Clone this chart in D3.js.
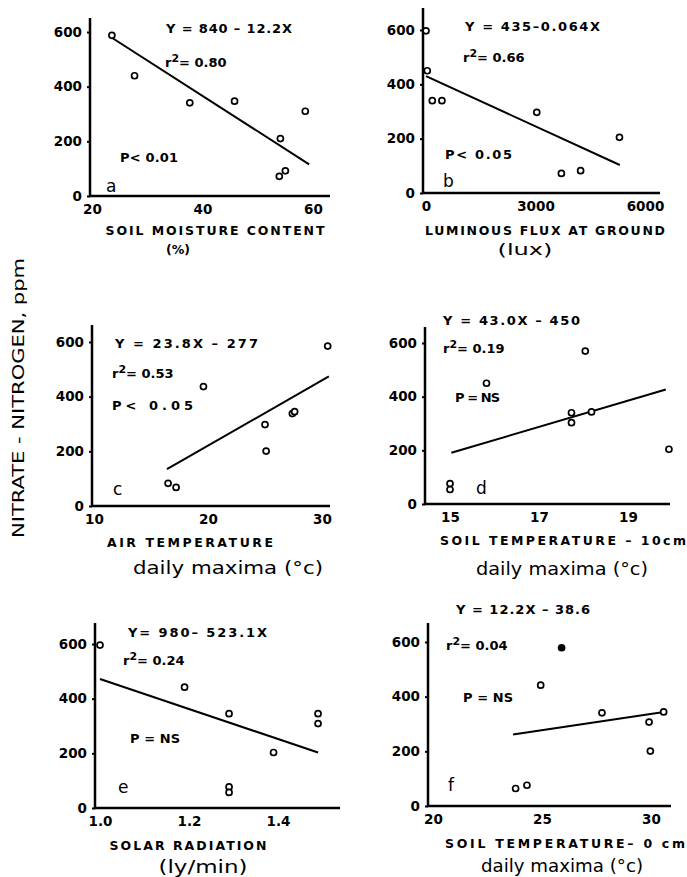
<!DOCTYPE html>
<html>
<head>
<meta charset="utf-8">
<script src="https://cdn.jsdelivr.net/npm/d3@7"></script>
<style>
  body { margin: 0; background: #fff; }
  svg { display: block; }
</style>
</head>
<body>
<svg id="chart" width="687" height="877"></svg>
<script>
// values, y is nitrate-nitrogen in ppm for every panel
const yTicks = [0, 200, 400, 600]

// a - soil moisture content (%)
const moistureX = [23.6, 27.7, 37.7, 45.8, 54.1, 53.9, 55.0, 58.6]
const moistureY = [588, 440, 341, 347, 210, 72, 92, 310]
const moistureFit = [[23.6, 579], [59.3, 116]]
const moistureTicks = [20, 40, 60]

// b - luminous flux at ground (lux)
const fluxX = [0, 35, 172, 436, 3035, 3709, 4236, 5300]
const fluxY = [597, 450, 340, 340, 297, 72, 82, 205]
const fluxFit = [[0, 430], [5310, 103]]
const fluxTicks = [0, 3000, 6000]

// c - air temperature, daily maxima (C)
const airX = [16.5, 17.2, 19.6, 25.0, 25.1, 27.4, 27.6, 30.5]
const airY = [83, 68, 437, 298, 201, 338, 345, 585]
const airFit = [[16.4, 135], [30.6, 474]]
const airTicks = [10, 20, 30]

// d - soil temperature 10cm, daily maxima (C)
const soil10X = [15.0, 15.0, 15.82, 17.73, 17.73, 18.04, 18.18, 19.92]
const soil10Y = [54, 76, 450, 340, 303, 570, 343, 204]
const soil10Fit = [[15.03, 191], [19.85, 427]]
const soil10Ticks = [15, 17, 19]

// e - solar radiation (ly/min)
const solarX = [1.0, 1.19, 1.29, 1.29, 1.29, 1.39, 1.49, 1.49]
const solarY = [596, 442, 345, 77, 57, 203, 345, 309]
const solarFit = [[1.0, 472], [1.49, 203]]
const solarTicks = [1.0, 1.2, 1.4]

// f - soil temperature 0cm, daily maxima (C)
const soil0X = [23.79, 24.31, 24.94, 25.9, 27.75, 29.91, 29.97, 30.58]
const soil0Y = [64, 76, 442, 579, 341, 307, 201, 344]
const soil0Fit = [[23.67, 262], [30.52, 343]]
const soil0Ticks = [20, 25, 30]

const equations = ["Y = 840 \u2013 12.2X", "Y = 435\u20130.064X", "Y = 23.8X \u2013 277",
                   "Y = 43.0X \u2013 450", "Y= 980\u2013 523.1X", "Y = 12.2X \u2013 38.6"]
const r2Values = ["0.80", "0.66", "0.53", "0.19", "0.24", "0.04"]
const pValues = ["P< 0.01", "P< 0.05", "P< 0.05", "P = NS", "P = NS", "P = NS"]
const panelLetters = ["a", "b", "c", "d", "e", "f"]
const titles = ["SOIL MOISTURE CONTENT", "LUMINOUS FLUX AT GROUND", "AIR TEMPERATURE",
                "SOIL TEMPERATURE \u2013 10cm", "SOLAR RADIATION", "SOIL TEMPERATURE\u2013 0 cm"]
const subtitles = ["(%)", "(lux)", "daily maxima (\u00b0c)", "daily maxima (\u00b0c)", "(ly/min)", "daily maxima (\u00b0c)"]
const yTitle = "NITRATE - NITROGEN,  ppm"

const FONT = "'DejaVu Sans', 'Liberation Sans', sans-serif"

// where each panel sits on the page (pixels)
const frames = [
  {xs: moistureX, ys: moistureY, fit: moistureFit, ticks: moistureTicks, xDom: [20, 60], xPx: [92, 313],
   x0: 90, x1: 330, y0: 196, y600: 32, yTop: 18,
   eq: [166, 33, 126], r2: [165, 67, 68], p: [120, 162, 58], letter: [106, 192],
   title: [215, 235, 219], sub: [178, 254, 24], subBold: true},
  {xs: fluxX, ys: fluxY, fit: fluxFit, ticks: fluxTicks, xDom: [0, 6000], xPx: [426, 645],
   x0: 423, x1: 660, y0: 193, y600: 30, yTop: 8,
   eq: [465, 31, 135], r2: [463, 62, 70], p: [445, 159, 67], letter: [443, 187],
   title: [545, 235, 240], sub: [525, 255, 55], subSize: 15},
  {xs: airX, ys: airY, fit: airFit, ticks: airTicks, xDom: [10, 30], xPx: [94, 322],
   x0: 92, x1: 330, y0: 506, y600: 342, yTop: 325,
   eq: [115, 348, 143], r2: [112, 378, 78], p: [112, 410, 81], letter: [113, 495],
   title: [190, 547, 166], sub: [228, 574, 190]},
  {xs: soil10X, ys: soil10Y, fit: soil10Fit, ticks: soil10Ticks, xDom: [15, 19], xPx: [450, 628],
   x0: 425, x1: 670, y0: 504, y600: 343, yTop: 327,
   eq: [443, 325, 137], r2: [443, 353, 70], p: [455, 402, 45], letter: [476, 494],
   title: [563, 545, 246], sub: [562, 575, 172]},
  {xs: solarX, ys: solarY, fit: solarFit, ticks: solarTicks, xDom: [1.0, 1.4], xPx: [100, 278],
   x0: 95, x1: 340, y0: 808, y600: 644, yTop: 623,
   eq: [128, 637, 139], r2: [123, 665, 76], p: [130, 743, 50], letter: [118, 793],
   title: [188, 850, 157], sub: [203, 873, 89], fmt: d3.format(".1f")},
  {xs: soil0X, ys: soil0Y, fit: soil0Fit, ticks: soil0Ticks, xDom: [20, 30], xPx: [433, 651],
   x0: 428, x1: 671, y0: 806, y600: 642, yTop: 623,
   eq: [456, 614, 134], r2: [446, 650, 82], p: [463, 702, 50], letter: [448, 791],
   title: [565, 848, 240], sub: [562, 872, 162], solid: [3]}
]

const svg = d3.select("#chart")

svg.append("text")
  .attr("transform", "translate(24,398) rotate(-90)")
  .attr("text-anchor", "middle")
  .attr("textLength", 280)
  .attr("lengthAdjust", "spacingAndGlyphs")
  .style("font", "16px " + FONT)
  .text(yTitle)

frames.forEach(function(f, i) {
  const g = svg.append("g").attr("class", "panel")
  const x = d3.scaleLinear().domain(f.xDom).range(f.xPx)
  const y = d3.scaleLinear().domain([0, 600]).range([f.y0, f.y600])

  // axis lines
  g.append("path")
    .attr("d", d3.line()([[f.x0, f.yTop], [f.x0, f.y0], [f.x1, f.y0]]))
    .attr("fill", "none")
    .attr("stroke", "black")
    .attr("stroke-width", 2.5)

  const yAx = g.append("g")
    .attr("transform", "translate(" + f.x0 + ",0)")
    .call(d3.axisLeft(y).tickValues(yTicks).tickSize(3).tickPadding(5))
  const xAx = g.append("g")
    .attr("transform", "translate(0," + f.y0 + ")")
    .call(d3.axisBottom(x).tickValues(f.ticks).tickSize(0).tickPadding(8)
      .tickFormat(f.fmt || (d => d)))
  ;[yAx, xAx].forEach(function(ax) {
    ax.select(".domain").remove()
    ax.selectAll("line").attr("stroke-width", 2)
    ax.selectAll("text").style("font", "bold 13.5px " + FONT).attr("fill", "black")
  })

  // regression line
  g.append("path")
    .attr("d", d3.line().x(d => x(d[0])).y(d => y(d[1]))(f.fit))
    .attr("fill", "none")
    .attr("stroke", "black")
    .attr("stroke-width", 2)

  // observations
  g.selectAll("circle")
    .data(d3.zip(f.xs, f.ys))
    .enter()
    .append("circle")
    .attr("cx", d => x(d[0]))
    .attr("cy", d => y(d[1]))
    .attr("r", 3)
    .attr("stroke", "black")
    .attr("stroke-width", 1.7)
    .attr("fill", (d, j) => (f.solid && f.solid.includes(j)) ? "black" : "white")

  // annotations
  const note = "bold 13px " + FONT
  g.append("text")
    .attr("x", f.eq[0]).attr("y", f.eq[1])
    .attr("textLength", f.eq[2]).attr("lengthAdjust", "spacing")
    .style("font", note)
    .text(equations[i])

  const r = g.append("text")
    .attr("x", f.r2[0]).attr("y", f.r2[1])
    .style("font", note)
  r.append("tspan").text("r")
  r.append("tspan").attr("dy", -5).style("font-size", "11px").text("2")
  r.append("tspan").attr("dy", 5).text("= " + r2Values[i])

  g.append("text")
    .attr("x", f.p[0]).attr("y", f.p[1])
    .attr("textLength", f.p[2]).attr("lengthAdjust", "spacing")
    .style("font", note)
    .text(pValues[i])

  g.append("text")
    .attr("x", f.letter[0]).attr("y", f.letter[1])
    .style("font", "17px " + FONT)
    .text(panelLetters[i])

  g.append("text")
    .attr("x", f.title[0]).attr("y", f.title[1])
    .attr("text-anchor", "middle")
    .attr("textLength", f.title[2]).attr("lengthAdjust", "spacing")
    .style("font", "bold 12.5px " + FONT)
    .text(titles[i])

  g.append("text")
    .attr("x", f.sub[0]).attr("y", f.sub[1])
    .attr("text-anchor", "middle")
    .attr("textLength", f.sub[2]).attr("lengthAdjust", "spacingAndGlyphs")
    .style("font", f.subBold ? "bold 12px " + FONT : (f.subSize || 17) + "px " + FONT)
    .text(subtitles[i])
})
</script>
</body>
</html>
